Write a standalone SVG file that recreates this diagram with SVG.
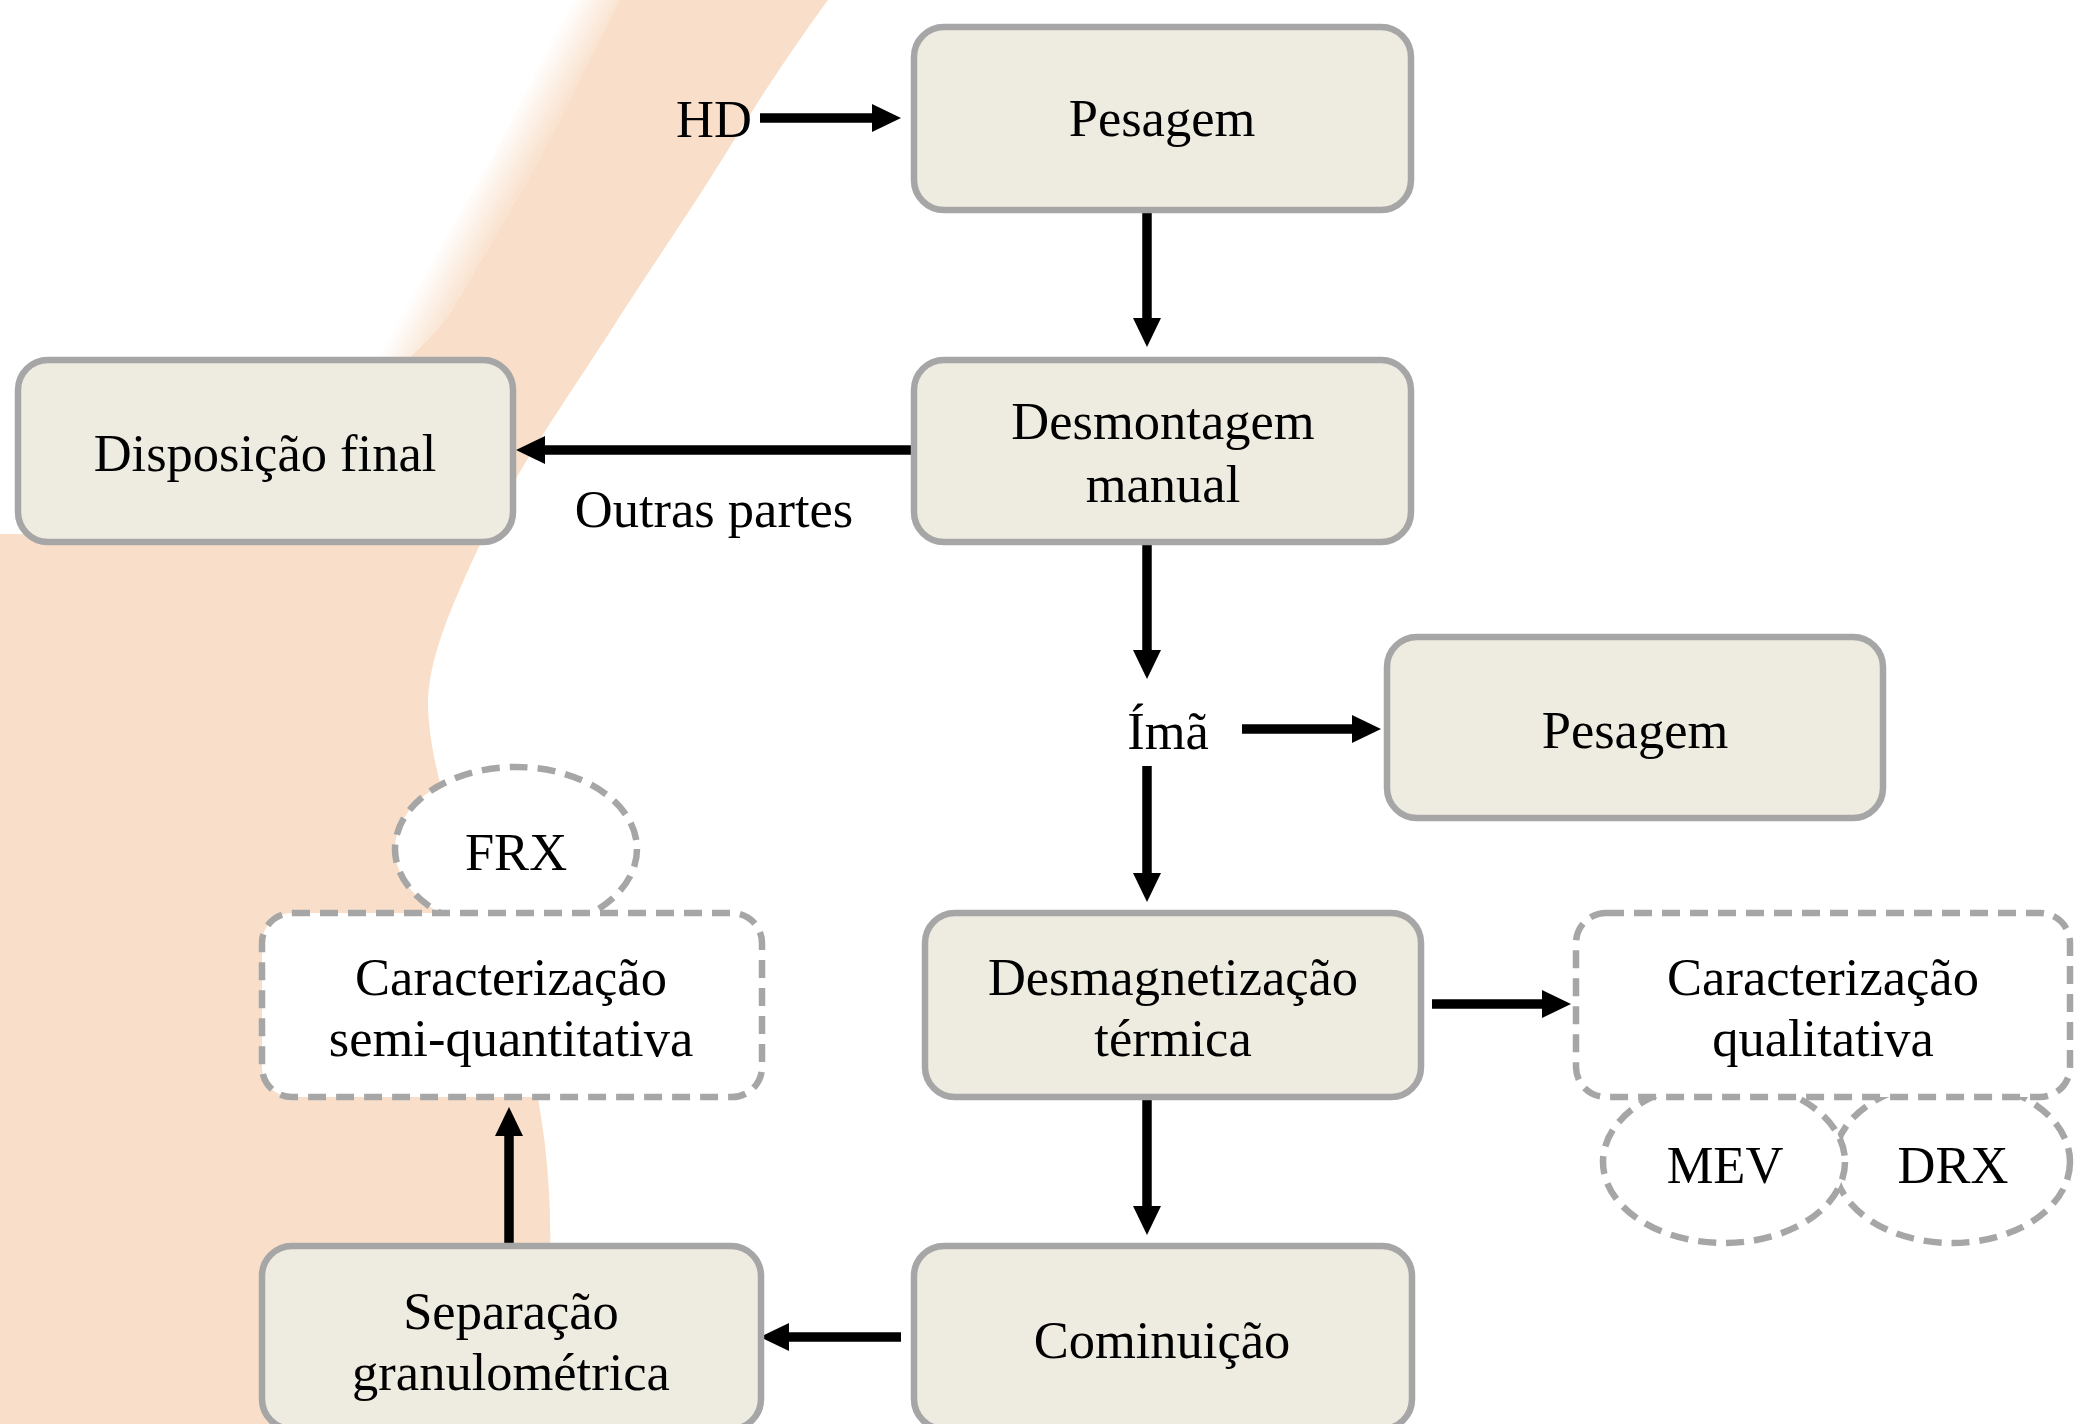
<svg xmlns="http://www.w3.org/2000/svg" width="2074" height="1424" viewBox="0 0 2074 1424">
  <defs>
    <style>
      .box { fill: #EEEBE0; stroke: #A6A6A6; stroke-width: 6.5; }
      .dbox { fill: #FFFFFF; stroke: #A6A6A6; stroke-width: 6.5; stroke-dasharray: 18 10; }
      .lbl { font-family: "Liberation Serif", "Times New Roman", serif; font-size: 52.5px; fill: #000000; text-anchor: middle; }
      .conn { stroke: #000000; stroke-width: 9.5; fill: none; marker-end: url(#arrow); }
    </style>
    <marker id="arrow" markerUnits="userSpaceOnUse" viewBox="0 0 29 28" refX="2" refY="14" markerWidth="29" markerHeight="28" orient="auto">
      <path d="M0,0 L29,14 L0,28 Z" fill="#000000"/>
    </marker>
    <linearGradient id="fade" gradientUnits="userSpaceOnUse" x1="488" y1="155" x2="532" y2="179">
      <stop offset="0" stop-color="#FFFFFF"/>
      <stop offset="1" stop-color="#F9DFC9"/>
    </linearGradient>
  </defs>

  <rect x="0" y="0" width="2074" height="1424" fill="#FFFFFF"/>

  <g id="watermark">
    <path fill="url(#fade)" d="M 570,0 L 624,0 C 594,52 568,105 540,158 C 510,211 480,262 448,316 C 430,340 410,355 390,380 L 342,380 C 365,355 385,338 400,316 C 432,262 462,211 492,158 C 520,105 546,52 570,0 Z"/>
    <path fill="#F9DFC9" d="M 620,0 L 828,0 C 790,52 755,105 723,158 C 690,211 655,262 620,316 C 580,380 515,470 476,553 C 450,610 428,660 428,705 C 430,800 495,930 525,1040 C 545,1115 552,1190 550,1260 L 520,1424 L 0,1424 L 0,534 L 60,534 L 390,380 C 410,355 430,340 448,316 C 480,262 510,211 540,158 C 568,105 594,52 620,0 Z"/>
  </g>

  <g id="connectors">
    <line class="conn" x1="760" y1="118" x2="874" y2="118"/>
    <line class="conn" x1="1147" y1="213" x2="1147" y2="320"/>
    <line class="conn" x1="911" y1="450" x2="543" y2="450"/>
    <line class="conn" x1="1147" y1="545" x2="1147" y2="652"/>
    <line class="conn" x1="1242" y1="729" x2="1354" y2="729"/>
    <line class="conn" x1="1147" y1="766" x2="1147" y2="875"/>
    <line class="conn" x1="1432" y1="1004" x2="1544" y2="1004"/>
    <line class="conn" x1="1147" y1="1100" x2="1147" y2="1208"/>
    <line class="conn" x1="901" y1="1337" x2="787" y2="1337"/>
    <line class="conn" x1="509" y1="1243" x2="509" y2="1134"/>
  </g>

  <g id="label-hd">
    <text class="lbl" x="714" y="137">HD</text>
  </g>

  <g id="node-pesagem1">
    <rect class="box" x="914" y="27" width="497" height="183" rx="30"/>
    <text class="lbl" x="1162" y="136">Pesagem</text>
  </g>

  <g id="node-desmontagem">
    <rect class="box" x="914" y="360" width="497" height="182" rx="30"/>
    <text class="lbl" x="1163" y="439">Desmontagem</text>
    <text class="lbl" x="1163" y="502">manual</text>
  </g>

  <g id="node-disposicao">
    <rect class="box" x="18" y="360" width="495" height="182" rx="30"/>
    <text class="lbl" x="265" y="471">Disposição final</text>
  </g>

  <g id="label-outras">
    <text class="lbl" x="714" y="527">Outras partes</text>
  </g>

  <g id="label-ima">
    <text class="lbl" x="1168" y="749">Ímã</text>
  </g>

  <g id="node-pesagem2">
    <rect class="box" x="1387" y="637" width="496" height="181" rx="30"/>
    <text class="lbl" x="1635" y="748">Pesagem</text>
  </g>

  <g id="node-desmagnetizacao">
    <rect class="box" x="925" y="913" width="496" height="184" rx="30"/>
    <text class="lbl" x="1173" y="995">Desmagnetização</text>
    <text class="lbl" x="1173" y="1056">térmica</text>
  </g>

  <g id="node-drx">
    <ellipse class="dbox" cx="1952" cy="1162" rx="118" ry="81"/>
    <text class="lbl" x="1953" y="1183">DRX</text>
  </g>

  <g id="node-mev">
    <ellipse class="dbox" cx="1724" cy="1162" rx="121" ry="81"/>
    <text class="lbl" x="1725" y="1183">MEV</text>
  </g>

  <g id="node-caract-qual">
    <rect class="dbox" x="1576" y="913" width="494" height="184" rx="30"/>
    <text class="lbl" x="1823" y="995">Caracterização</text>
    <text class="lbl" x="1823" y="1056">qualitativa</text>
  </g>

  <g id="node-frx">
    <ellipse class="dbox" cx="516" cy="849" rx="121" ry="82"/>
    <text class="lbl" x="516" y="870">FRX</text>
  </g>

  <g id="node-caract-semi">
    <rect class="dbox" x="262" y="913" width="500" height="184" rx="30"/>
    <text class="lbl" x="511" y="995">Caracterização</text>
    <text class="lbl" x="511" y="1056">semi-quantitativa</text>
  </g>

  <g id="node-separacao">
    <rect class="box" x="262" y="1246" width="499" height="183" rx="30"/>
    <text class="lbl" x="511" y="1329">Separação</text>
    <text class="lbl" x="511" y="1390">granulométrica</text>
  </g>

  <g id="node-cominuicao">
    <rect class="box" x="914" y="1246" width="498" height="183" rx="30"/>
    <text class="lbl" x="1162" y="1358">Cominuição</text>
  </g>
</svg>
